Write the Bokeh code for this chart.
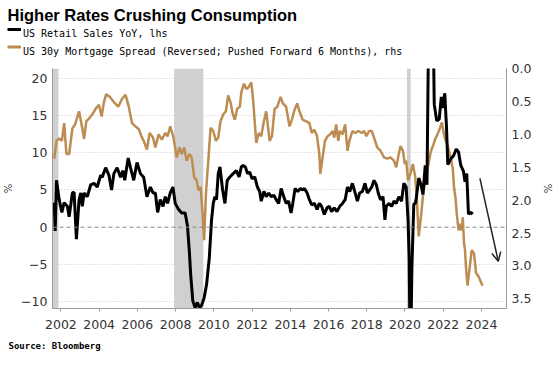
from bokeh.plotting import figure
from bokeh.layouts import column
from bokeh.models import (Range1d, LinearAxis, FixedTicker, BoxAnnotation, Arrow, OpenHead,
                          Title, PrintfTickFormatter, Span)
from bokeh.core.properties import value
from bokeh.embed import file_html
from bokeh.resources import INLINE

# ---- data (decimal years) ----
retail_x = [2001.65, 2001.70, 2001.77, 2001.91, 2002.05, 2002.17, 2002.34, 2002.43, 2002.60, 2002.69,
            2002.81, 2002.95, 2003.04, 2003.12, 2003.21, 2003.38, 2003.56, 2003.73, 2003.90, 2004.08,
            2004.16, 2004.34, 2004.51, 2004.65, 2004.77, 2004.94, 2005.12, 2005.24, 2005.34, 2005.52,
            2005.64, 2005.81, 2005.98, 2006.16, 2006.33, 2006.50, 2006.68, 2006.82, 2006.94, 2007.06,
            2007.20, 2007.34, 2007.46, 2007.58, 2007.72, 2007.86, 2007.98, 2008.15, 2008.32, 2008.50,
            2008.62, 2008.72, 2008.79, 2008.90, 2009.02, 2009.14, 2009.24, 2009.36, 2009.49, 2009.62,
            2009.76, 2009.88, 2009.97, 2010.06, 2010.14, 2010.23, 2010.32, 2010.46, 2010.58, 2010.70,
            2010.84, 2011.01, 2011.18, 2011.32, 2011.44, 2011.53, 2011.65, 2011.76, 2011.88, 2012.00,
            2012.14, 2012.28, 2012.40, 2012.48, 2012.62, 2012.74, 2012.87, 2013.00, 2013.14, 2013.26,
            2013.39, 2013.52, 2013.66, 2013.78, 2013.91, 2014.04, 2014.13, 2014.25, 2014.39, 2014.53,
            2014.65, 2014.74, 2014.88, 2015.00, 2015.12, 2015.26, 2015.40, 2015.52, 2015.64, 2015.78,
            2015.92, 2016.04, 2016.16, 2016.30, 2016.44, 2016.59, 2016.73, 2016.87, 2016.99, 2017.11,
            2017.25, 2017.39, 2017.51, 2017.63, 2017.77, 2017.91, 2018.03, 2018.15, 2018.26, 2018.38,
            2018.50, 2018.60, 2018.72, 2018.85, 2018.95, 2019.02, 2019.16, 2019.30, 2019.42, 2019.54,
            2019.68, 2019.82, 2019.94, 2020.06, 2020.16, 2020.22, 2020.28, 2020.36, 2020.46, 2020.54,
            2020.59, 2020.72, 2020.84, 2020.94, 2021.06, 2021.15, 2021.24, 2021.36, 2021.47, 2021.53,
            2021.66, 2021.79, 2021.90, 2021.97, 2022.08, 2022.17, 2022.24, 2022.40, 2022.54, 2022.68,
            2022.80, 2022.92, 2023.06, 2023.14, 2023.23, 2023.32, 2023.44, 2023.54]
retail = [3.3, -0.5, 6.3, 3.7, 2.0, 3.3, 2.8, 1.4, 4.6, 4.7,
          -1.6, 3.7, 4.6, 2.8, 4.6, 4.1, 5.7, 5.9, 5.4, 7.0,
          6.7, 8.0, 7.0, 5.0, 7.2, 8.0, 6.7, 7.6, 6.3, 9.3,
          8.0, 6.3, 8.7, 7.2, 6.7, 4.1, 5.4, 4.6, 4.6, 2.0,
          3.7, 2.8, 4.1, 3.2, 4.6, 5.4, 3.2, 2.4, 1.9, 1.9,
          0.2, -3.3, -6.4, -9.9, -10.8, -10.1, -10.8, -10.5, -9.5, -7.7,
          -4.2, 1.0, 3.2, 4.1, 3.7, 7.2, 8.1, 5.0, 3.2, 6.3,
          6.75, 7.2, 7.6, 6.75, 8.1, 8.3, 8.1, 7.2, 7.4, 6.5,
          6.75, 5.4, 4.8, 3.5, 4.8, 4.1, 4.6, 4.1, 4.3, 3.7,
          3.2, 5.2, 4.1, 3.2, 3.5, 1.9, 3.2, 5.2, 4.8, 5.2,
          5.0, 5.2, 4.6, 3.7, 3.0, 3.2, 2.4, 3.2, 2.8, 1.7,
          2.6, 2.8, 2.1, 2.6, 2.1, 2.8, 3.2, 3.7, 5.4, 4.8,
          5.9, 4.6, 3.5, 4.6, 4.8, 5.9, 4.6, 5.0, 5.4, 6.3,
          5.7, 4.6, 3.7, 4.1, 1.0, 2.8, 3.2, 2.8, 3.5, 3.2,
          4.1, 3.5, 5.9, 5.4, 1.0, -4.2, -19.9, -5.6, 3.1, 3.2,
          3.9, 6.6, 5.7, 4.4, 8.3, 5.7, 28.0, 52.0, 28.0, 16.5,
          14.3, 14.5, 17.5, 16.0, 18.0, 13.5, 8.4, 9.2, 9.6, 10.5,
          10.1, 8.3, 7.5, 6.1, 7.2, 1.75, 2.0, 1.75]

spread_x = [2001.65, 2001.77, 2001.91, 2002.05, 2002.17, 2002.29, 2002.43, 2002.60, 2002.74, 2002.95,
            2003.12, 2003.21, 2003.33, 2003.47, 2003.64, 2003.82, 2003.99, 2004.13, 2004.25, 2004.37,
            2004.55, 2004.77, 2005.00, 2005.20, 2005.38, 2005.55, 2005.72, 2005.90, 2006.07, 2006.21,
            2006.33, 2006.50, 2006.64, 2006.82, 2006.94, 2007.11, 2007.28, 2007.46, 2007.58, 2007.72,
            2007.89, 2008.06, 2008.20, 2008.32, 2008.45, 2008.58, 2008.72, 2008.84, 2008.97, 2009.10,
            2009.19, 2009.31, 2009.42, 2009.49, 2009.59, 2009.71, 2009.83, 2009.97, 2010.11, 2010.23,
            2010.35, 2010.49, 2010.63, 2010.75, 2010.87, 2010.98, 2011.10, 2011.22, 2011.36, 2011.44,
            2011.58, 2011.70, 2011.83, 2011.96, 2012.05, 2012.22, 2012.35, 2012.48, 2012.62, 2012.74,
            2012.92, 2013.04, 2013.18, 2013.32, 2013.49, 2013.61, 2013.78, 2013.96, 2014.08, 2014.22,
            2014.36, 2014.48, 2014.65, 2014.82, 2015.00, 2015.12, 2015.26, 2015.40, 2015.52, 2015.57,
            2015.69, 2015.81, 2015.95, 2016.09, 2016.21, 2016.30, 2016.40, 2016.51, 2016.59, 2016.73,
            2016.87, 2016.99, 2017.11, 2017.25, 2017.39, 2017.56, 2017.74, 2017.86, 2017.98, 2018.12,
            2018.26, 2018.38, 2018.55, 2018.72, 2018.90, 2019.07, 2019.24, 2019.42, 2019.54, 2019.64,
            2019.76, 2019.89, 2019.99, 2020.06, 2020.16, 2020.28, 2020.41, 2020.54, 2020.63, 2020.72,
            2020.84, 2020.96, 2021.08, 2021.21, 2021.35, 2021.47, 2021.58, 2021.67, 2021.81, 2021.93,
            2022.02, 2022.10, 2022.23, 2022.36, 2022.50, 2022.57, 2022.64, 2022.71, 2022.80, 2022.88,
            2022.97, 2023.02, 2023.09, 2023.14, 2023.20, 2023.27, 2023.37, 2023.49, 2023.61, 2023.72,
            2023.83, 2023.95, 2024.06]
spread = [1.37, 1.10, 1.06, 1.10, 0.83, 1.30, 1.30, 0.91, 0.85, 0.65,
          0.91, 1.07, 0.80, 0.76, 0.70, 0.61, 0.55, 0.73, 0.51, 0.39,
          0.43, 0.51, 0.58, 0.46, 0.40, 0.58, 0.83, 0.88, 0.92, 1.03,
          1.10, 1.23, 0.98, 1.05, 1.20, 1.00, 1.08, 0.98, 1.03, 0.88,
          1.05, 1.35, 1.20, 1.30, 1.20, 1.40, 1.30, 1.35, 1.65, 1.70,
          1.85, 1.80, 2.24, 2.61, 1.89, 1.40, 0.90, 0.95, 1.10, 1.05,
          0.80, 0.70, 0.65, 0.41, 0.51, 0.68, 0.78, 0.61, 0.58, 0.36,
          0.23, 0.31, 0.28, 0.21, 0.46, 1.13, 0.98, 1.03, 0.80, 0.65,
          1.10, 1.03, 0.61, 0.58, 0.43, 0.53, 0.58, 0.88, 0.78, 0.63,
          0.53, 0.65, 0.78, 0.80, 0.83, 0.98, 0.93, 1.03, 1.30, 1.60,
          1.35, 1.10, 1.03, 1.00, 0.95, 1.05, 0.85, 1.10, 0.95, 1.00,
          0.85, 1.25, 1.08, 0.95, 0.98, 0.95, 0.98, 0.95, 1.03, 0.95,
          0.95, 1.05, 1.20, 1.25, 1.35, 1.37, 1.35, 1.40, 1.50, 1.35,
          1.18, 1.25, 1.45, 1.40, 1.70, 1.60, 1.45, 1.65, 2.04, 2.55,
          2.24, 1.88, 1.68, 1.48, 1.26, 1.17, 1.07, 1.02, 0.92, 0.82,
          0.97, 1.07, 1.17, 1.32, 1.52, 1.82, 1.96, 2.21, 2.46, 2.36,
          2.46, 2.26, 2.66, 2.76, 3.06, 3.30, 3.06, 2.76, 2.81, 3.11,
          3.15, 3.23, 3.30]

recession_start = [2001.17, 2007.92, 2020.10]
recession_end = [2001.87, 2009.45, 2020.30]

arrow_x = [2023.92, 2024.88]
arrow_y = [1.67, 2.93]

x_ticks = [2002, 2004, 2006, 2008, 2010, 2012, 2014, 2016, 2018, 2020, 2022, 2024]
left_ticks = [-10, -5, 0, 5, 10, 15, 20]
right_ticks = [0.0, 0.5, 1.0, 1.5, 2.0, 2.5, 3.0, 3.5]

title_text = "Higher Rates Crushing Consumption"
legend_labels = ["US Retail Sales YoY, lhs",
                 "US 30y Mortgage Spread (Reversed; Pushed Forward 6 Months), rhs"]
source_text = "Source: Bloomberg"

GOLD = "#BD8C50"
legend_colors = ["black", GOLD]
TICK_FONT = "DejaVu Sans"
TXT = "#333333"
AX = "#9a9a9a"
W = 556

# ---------------- header (title + legend), pixel coordinates ----------------
HDR_H = 60
hdr = figure(width=W, height=HDR_H, output_backend="svg", toolbar_location=None,
             x_range=Range1d(0, W), y_range=Range1d(HDR_H, 0),
             x_axis_type=None, y_axis_type=None,
             min_border_left=0, min_border_right=0, min_border_top=0, min_border_bottom=0)
hdr.outline_line_color = None
hdr.grid.visible = False
hdr.text(x=[7], y=[14.5], text=[title_text], text_font=value("Liberation Sans"),
         text_font_size="16.5px", text_font_style="bold", text_color="black",
         text_baseline="alphabetic", text_align="left")
row_mid = [29.0, 46.5]
hdr.segment(x0=[7, 7], y0=row_mid, x1=[20.5, 20.5], y1=row_mid,
            line_color=legend_colors, line_width=3)
hdr.text(x=[22.5, 22.5], y=[m + 4.2 for m in row_mid], text=legend_labels,
         text_font=value("DejaVu Sans Mono"), text_font_size="10px", text_color="black",
         text_baseline="alphabetic", text_align="left")

# ---------------- main chart ----------------
p = figure(width=W, height=298, output_backend="svg", toolbar_location=None,
           x_range=Range1d(2001.56, 2025.31), y_range=Range1d(-10.92, 21.32),
           min_border_left=52, min_border_right=46, min_border_top=8, min_border_bottom=45)
p.outline_line_color = None
p.background_fill_color = "white"
p.extra_y_ranges = {"rhs": Range1d(3.646, 0.0)}

for f in (hdr, p):
    if "frame_align" in f.properties():
        f.frame_align = False

for s, e in zip(recession_start, recession_end):
    p.add_layout(BoxAnnotation(left=s, right=e, fill_color="#d0d0d0", fill_alpha=1.0,
                               line_alpha=0, level="underlay"))

p.xgrid.visible = False
p.ygrid.ticker = FixedTicker(ticks=[t for t in left_ticks if t != 0])
p.ygrid.grid_line_color = "#c8c8c8"
p.ygrid.grid_line_dash = "1 2"
p.add_layout(Span(location=0, dimension="width", line_color="#888888",
                  line_dash="4 3", line_width=1))

r_s = p.line(spread_x, spread, y_range_name="rhs", line_color=GOLD, line_width=2.5)
r_r = p.line(retail_x, retail, line_color="black", line_width=3)

p.add_layout(Arrow(end=OpenHead(size=9, line_width=1.5, line_color="#222222"),
                   x_start=arrow_x[0], y_start=arrow_y[0], x_end=arrow_x[1], y_end=arrow_y[1],
                   y_range_name="rhs", line_width=1.5, line_color="#222222"))

xa = p.xaxis[0]
xa.ticker = FixedTicker(ticks=x_ticks)
ya = p.yaxis[0]
ya.ticker = FixedTicker(ticks=left_ticks)
ya.axis_label = "%"
ra = LinearAxis(y_range_name="rhs", ticker=FixedTicker(ticks=right_ticks),
                formatter=PrintfTickFormatter(format="%.1f"), axis_label="%")
p.add_layout(ra, "right")
for ax in (xa, ya, ra):
    ax.axis_line_color = AX
    ax.major_tick_line_color = AX
    ax.minor_tick_line_color = None
    ax.major_label_text_font = TICK_FONT
    ax.major_label_text_font_size = "12.5px"
    ax.major_label_text_color = TXT
    ax.axis_label_text_font = TICK_FONT
    ax.axis_label_text_font_size = "10px"
    ax.axis_label_text_font_style = "normal"
    ax.axis_label_text_color = TXT
xa.major_tick_in = 0
xa.major_tick_out = 3
xa.major_label_standoff = 8
for ax in (ya, ra):
    ax.major_tick_in = 0
    ax.major_tick_out = 0
    ax.major_label_standoff = 5
ya.axis_label_standoff = 4
ra.axis_label_standoff = 8

p.add_layout(Title(text=source_text, align="left", offset=-44, text_font="DejaVu Sans Mono",
                   text_font_size="9px", text_font_style="bold", text_color="black",
                   standoff=15), "below")

layout = column(hdr, p, spacing=0)
open("out.html", "w").write(file_html(layout, INLINE))
